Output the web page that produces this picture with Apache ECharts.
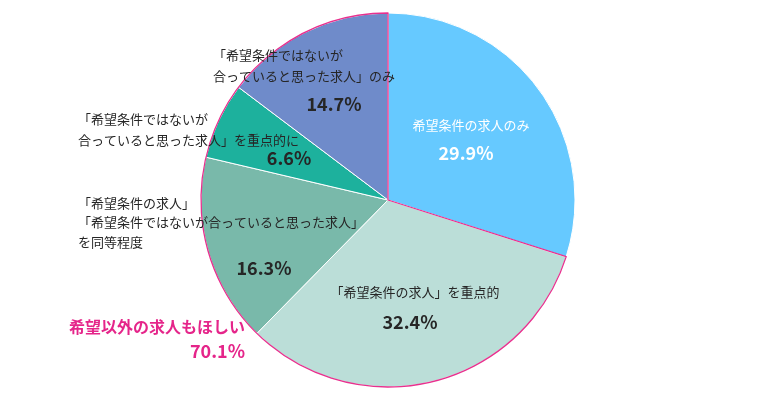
<!DOCTYPE html>
<html><head><meta charset="utf-8">
<script src="https://cdn.jsdelivr.net/npm/echarts@6/dist/echarts.min.js"></script>
<style>html,body{margin:0;padding:0;background:#fff}#c{width:775px;height:393px}</style>
</head><body><div id="c"></div>
<script>
var names = ['希望条件の求人のみ', '「希望条件の求人」を重点的', '「希望条件の求人」\n「希望条件ではないが合っていると思った求人」\nを同等程度', '「希望条件ではないが\n合っていると思った求人」を重点的に', '「希望条件ではないが\n合っていると思った求人」のみ'];
var values = [29.9, 32.4, 16.3, 6.6, 14.7];
var colors = ['#66C9FF', '#BBDED8', '#79B9AA', '#1DB19D', '#6F8BCA'];
var groupLabel = '希望以外の求人もほしい';
var groupValue = 70.1;

var FONT = '"Noto Sans CJK JP", "Noto Sans", sans-serif';
var center = [388, 200], radius = 187;
// label placement: [nameX, firstLineCenterY, nameAlign, lineHeight, pctX, pctY, textColor]
var layout = [
  [471, 125, 'center', 20, 466, 153, '#ffffff'],
  [415, 292, 'center', 20, 410, 322, '#262626'],
  [78, 203, 'left', 19.5, 264, 268, '#262626'],
  [78, 119, 'left', 21, 289, 158, '#262626'],
  [213, 55, 'left', 21, 334, 104, '#262626']
];

var graphics = [];
values.forEach(function (v, i) {
  var L = layout[i];
  graphics.push({type: 'text', z: 100, x: L[0], y: L[1] - L[3] / 2, style: {text: names[i], font: '13px ' + FONT, fill: L[6], textAlign: L[2], textVerticalAlign: 'top', lineHeight: L[3]}});
  graphics.push({type: 'text', z: 100, x: L[4], y: L[5], style: {text: v.toFixed(1) + '%', font: 'bold 18px ' + FONT, fill: L[6], textAlign: 'center', textVerticalAlign: 'middle'}});
});
graphics.push({type: 'text', z: 100, x: 245, y: 327, style: {text: groupLabel, font: 'bold 16px ' + FONT, fill: '#E5258A', textAlign: 'right', textVerticalAlign: 'middle'}});
graphics.push({type: 'text', z: 100, x: 245, y: 351, style: {text: groupValue.toFixed(1) + '%', font: 'bold 18px ' + FONT, fill: '#E5258A', textAlign: 'right', textVerticalAlign: 'middle'}});

var chart = echarts.init(document.getElementById('c'), null, {renderer: 'canvas'});
chart.setOption({
  animation: false,
  series: [{
    type: 'pie', center: center, radius: radius, startAngle: 90, clockwise: true, z: 1,
    label: {show: false}, labelLine: {show: false}, emphasis: {disabled: true},
    itemStyle: {borderColor: '#ffffff', borderWidth: 1},
    data: values.map(function (v, i) { return {value: v, name: names[i], itemStyle: {color: colors[i]}}; })
  }, {
    type: 'pie', center: center, radius: radius, startAngle: 90, clockwise: true, silent: true, z: 2,
    label: {show: false}, labelLine: {show: false}, emphasis: {disabled: true},
    data: [
      {value: values[0], itemStyle: {color: 'rgba(0,0,0,0)', borderWidth: 0}},
      {value: groupValue, itemStyle: {color: 'rgba(0,0,0,0)', borderColor: '#E8308E', borderWidth: 1.3}}
    ]
  }],
  graphic: {elements: graphics}
});
</script></body></html>
